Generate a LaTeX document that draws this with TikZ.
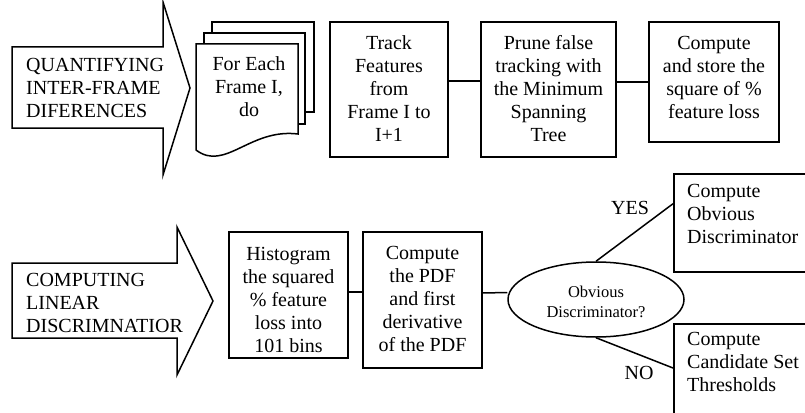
\documentclass[tikz,border=0pt]{standalone}
\usepackage{fontspec}
\setmainfont{Liberation Serif}
\usetikzlibrary{shapes.geometric}
\tikzset{
  ln/.style={line width=1.5pt},
  box/.style={draw, ln, fill=white, inner sep=0pt},
  txt/.style={align=center, inner sep=0pt, font=\fontsize{20}{23}\selectfont},
  ltxt/.style={align=left, inner sep=0pt, font=\fontsize{20}{23}\selectfont},
  stxt/.style={align=center, inner sep=0pt, font=\fontsize{16.5}{19.5}\selectfont},
}
\begin{document}
\begin{tikzpicture}[x=1pt,y=-1pt]
\useasboundingbox (0,0) rectangle (805,412);
\clip (0,0) rectangle (805,412);
% top band
\draw[ln] (12,47) -- (163,47) -- (163,2) -- (190,88) -- (163,175) -- (163,128) -- (12,128) -- cycle;
\node[ltxt, anchor=west] (qlab) at (26,88) {QUANTIFYING\\INTER-FRAME\\DIFERENCES};
\draw[ln, fill=white] (212,22) rectangle (314,112);
\draw[ln, fill=white] (204,33) rectangle (305,124);
\draw[ln, fill=white] (196,44) -- (298,44) -- (298,134) .. controls (250,128) and (225,172) .. (196,150) -- cycle;
\node[txt] (doc) at (249,87) {For Each\\Frame I,\\do};
\node[box, minimum width=118pt, minimum height=135pt] (track) at (389,89.5) {};
\node[txt] (trackT) at (389,89) {Track\\Features\\from\\Frame I to\\I+1};
\node[box, minimum width=135pt, minimum height=135pt] (prune) at (548.5,89.5) {};
\node[txt] (pruneT) at (548.5,89) {Prune false\\tracking with\\the Minimum\\Spanning\\Tree};
\node[box, minimum width=130pt, minimum height=120pt] (store) at (714,82) {};
\node[txt] (storeT) at (714,77) {Compute\\and store the\\square of \%\\feature loss};
\draw[ln] ([yshift=8.5pt]track.east) -- ([yshift=8.5pt]prune.west);
\draw[ln] (prune.east |- store.west) -- (store.west);
% bottom band
\draw[ln] (12,263) -- (177,263) -- (177,227) -- (213,301) -- (177,375) -- (177,338) -- (12,338) -- cycle;
\node[ltxt, anchor=west] (clab) at (26,303) {COMPUTING\\LINEAR\\DISCRIMNATIOR};
\node[box, minimum width=119pt, minimum height=126pt] (hist) at (288.5,295) {};
\node[txt] (histT) at (288.5,299.5) {Histogram\\the squared\\\% feature\\loss into\\101 bins};
\node[box, minimum width=119pt, minimum height=136pt] (pdf) at (422.5,300) {};
\node[txt] (pdfT) at (422.5,299) {Compute\\the PDF\\and first\\derivative\\of the PDF};
\draw[ln] ([yshift=3pt]hist.east) -- ([yshift=3pt]hist.east -| pdf.west);
\node[draw, ln, ellipse, minimum width=176pt, minimum height=75pt, inner sep=0pt] (ell) at (596,299.5) {};
\node[stxt] (ellT) at (596,302) {Obvious\\Discriminator?};
\draw[ln] ([yshift=7pt]pdf.east) -- ([yshift=7pt]ell.west);
\node[box, anchor=north west, minimum width=180pt, minimum height=98pt] (yes) at (673,173) {};
\node[ltxt, anchor=north west] (yesT) at (687,184) {Compute\\Obvious\\Discriminator};
\node[box, anchor=north west, minimum width=180pt, minimum height=120pt] (no) at (673,323) {};
\node[ltxt, anchor=north west] (noT) at (687,332) {Compute\\Candidate Set\\Thresholds};
\draw[ln] (ell.north) -- ([yshift=19pt]yes.west);
\coordinate (noin) at ([yshift=-45pt]no.north west);
\draw[ln] (ell.south) -- (noin);
\node[txt] (yeslab) at (630,208) {YES};
\node[txt] (nolab) at (639,373) {NO};
\end{tikzpicture}
\end{document}
